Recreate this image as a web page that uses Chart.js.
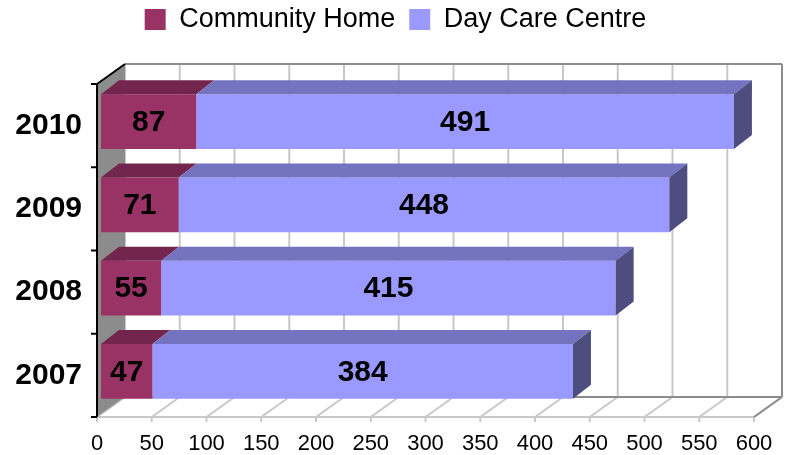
<!DOCTYPE html>
<html>
<head>
<meta charset="utf-8">
<script src="https://cdn.jsdelivr.net/npm/chart.js@4"></script>
<style>
  html, body { margin: 0; padding: 0; background: #fff; }
  #wrap { width: 791px; height: 455px; }
</style>
</head>
<body>
<div id="wrap"><canvas id="chart"></canvas></div>
<script>
// ================= DATA =================
const years = ["2010", "2009", "2008", "2007"];
const communityHome = [87, 71, 55, 47];
const dayCareCentre = [491, 448, 415, 384];
const xMin = 0;
const xMax = 600;
const xStep = 50;

// ================= 3D LOOK =================
const WALL_DX = 28, WALL_DY = 20;   // depth of the back wall
const BAR_OX = 4, BAR_OY = -4;      // bar front plane offset
const BAR_DX = 18, BAR_DY = 14;     // bar depth
const FONT = "'Liberation Sans', Arial, sans-serif";

const faceColors = [
  { front: "#993366", top: "#73264d", side: "#4d1933" },
  { front: "#9999ff", top: "#7373bf", side: "#4d4d80" }
];

function line(ctx, x1, y1, x2, y2, color, w) {
  ctx.beginPath();
  ctx.moveTo(x1, y1);
  ctx.lineTo(x2, y2);
  ctx.strokeStyle = color;
  ctx.lineWidth = w;
  ctx.stroke();
}

function poly(ctx, pts, color) {
  ctx.beginPath();
  ctx.moveTo(pts[0][0], pts[0][1]);
  pts.slice(1).forEach(p => ctx.lineTo(p[0], p[1]));
  ctx.closePath();
  ctx.fillStyle = color;
  ctx.fill();
}

const box3d = {
  id: "box3d",
  beforeDatasetsDraw(chart) {
    const { ctx, chartArea } = chart;
    const { left, right, top, bottom } = chartArea;
    const xs = chart.scales.x;
    ctx.save();

    // back wall grid
    for (let v = xMin; v <= xMax; v += xStep) {
      const px = xs.getPixelForValue(v);
      line(ctx, px + WALL_DX, top - WALL_DY, px + WALL_DX, bottom - WALL_DY, "#c8c8c8", 2);
      line(ctx, px, bottom, px + WALL_DX, bottom - WALL_DY, "#c8c8c8", 2);
      line(ctx, px, bottom, px, bottom + 5, "#c8c8c8", 2);
    }
    // back wall border + floor edges
    line(ctx, left + WALL_DX, top - WALL_DY, right + WALL_DX, top - WALL_DY, "#8c8c8c", 2);
    line(ctx, right + WALL_DX, top - WALL_DY, right + WALL_DX, bottom - WALL_DY, "#8c8c8c", 2);
    line(ctx, left + WALL_DX, bottom - WALL_DY, right + WALL_DX, bottom - WALL_DY, "#8c8c8c", 2);
    line(ctx, left, bottom, right, bottom, "#c8c8c8", 2);
    line(ctx, right, bottom, right + WALL_DX, bottom - WALL_DY, "#8c8c8c", 2);

    // left side wall
    poly(ctx, [[left, top], [left + WALL_DX, top - WALL_DY],
               [left + WALL_DX, bottom - WALL_DY], [left, bottom]], "#8c8c8c");
    line(ctx, left, bottom, left + WALL_DX, bottom - WALL_DY, "#b4b4b4", 1);

    // left axis with ticks between categories
    line(ctx, left, top, left, bottom, "#000", 2);
    line(ctx, left, top, left + WALL_DX, top - WALL_DY, "#000", 2);
    const n = years.length;
    for (let i = 0; i <= n; i++) {
      const py = top + (bottom - top) * i / n;
      line(ctx, left - 6, py, left, py, "#000", 2);
    }
    ctx.restore();

    // shift bars into the middle of the depth
    ctx.save();
    ctx.translate(BAR_OX, BAR_OY);
  },
  afterDatasetsDraw(chart) {
    const { ctx } = chart;
    const last = chart.data.datasets.length - 1;
    chart.data.datasets.forEach((ds, di) => {
      const meta = chart.getDatasetMeta(di);
      meta.data.forEach(el => {
        const p = el.getProps(["x", "y", "base", "height"], true);
        const y0 = p.y - p.height / 2, y1 = p.y + p.height / 2;
        poly(ctx, [[p.base, y0], [p.base + BAR_DX, y0 - BAR_DY],
                   [p.x + BAR_DX, y0 - BAR_DY], [p.x, y0]], faceColors[di].top);
        if (di === last) {
          poly(ctx, [[p.x, y0], [p.x + BAR_DX, y0 - BAR_DY],
                     [p.x + BAR_DX, y1 - BAR_DY], [p.x, y1]], faceColors[di].side);
        }
      });
    });

    // value labels
    ctx.font = "bold 30px " + FONT;
    ctx.fillStyle = "#000";
    ctx.textAlign = "center";
    ctx.textBaseline = "middle";
    chart.data.datasets.forEach((ds, di) => {
      const meta = chart.getDatasetMeta(di);
      meta.data.forEach((el, i) => {
        const p = el.getProps(["x", "y", "base"], true);
        ctx.fillText(String(ds.data[i]), (p.x + p.base) / 2, p.y + 1);
      });
    });
    ctx.restore();
  }
};

new Chart(document.getElementById("chart"), {
  type: "bar",
  data: {
    labels: years,
    datasets: [
      { label: "Community Home", data: communityHome, backgroundColor: faceColors[0].front, borderWidth: 0 },
      { label: "Day Care Centre", data: dayCareCentre, backgroundColor: faceColors[1].front, borderWidth: 0 }
    ]
  },
  options: {
    indexAxis: "y",
    responsive: true,
    maintainAspectRatio: false,
    animation: false,
    layout: { padding: { top: -8, left: 0, right: 0, bottom: 0 } },
    datasets: { bar: { categoryPercentage: 1, barPercentage: 0.66 } },
    plugins: {
      legend: {
        position: "top",
        labels: {
          font: { family: FONT, size: 27 },
          color: "#000",
          boxWidth: 21,
          boxHeight: 21,
          padding: 14
        }
      },
      tooltip: { enabled: false }
    },
    scales: {
      x: {
        stacked: true,
        min: xMin,
        max: xMax,
        ticks: { stepSize: xStep, color: "#000", font: { family: FONT, size: 22 }, padding: 14 },
        grid: { display: false, drawTicks: false },
        border: { display: false },
        afterFit: s => { s.height = 38; }
      },
      y: {
        stacked: true,
        ticks: { color: "#000", font: { family: FONT, size: 30, weight: "bold" }, padding: 15 },
        grid: { display: false, drawTicks: false },
        border: { display: false },
        afterFit: s => { s.width = 97; }
      },
      // empty axes used only as spacers around the plot
      padRight: {
        axis: "y",
        position: "right",
        display: true,
        ticks: { display: false },
        grid: { display: false, drawTicks: false },
        border: { display: false },
        afterFit: s => { s.width = 37; }
      },
      padTop: {
        axis: "x",
        position: "top",
        display: true,
        ticks: { display: false },
        grid: { display: false, drawTicks: false },
        border: { display: false },
        afterFit: s => { s.height = 41; }
      }
    }
  },
  plugins: [box3d]
});
</script>
</body>
</html>
